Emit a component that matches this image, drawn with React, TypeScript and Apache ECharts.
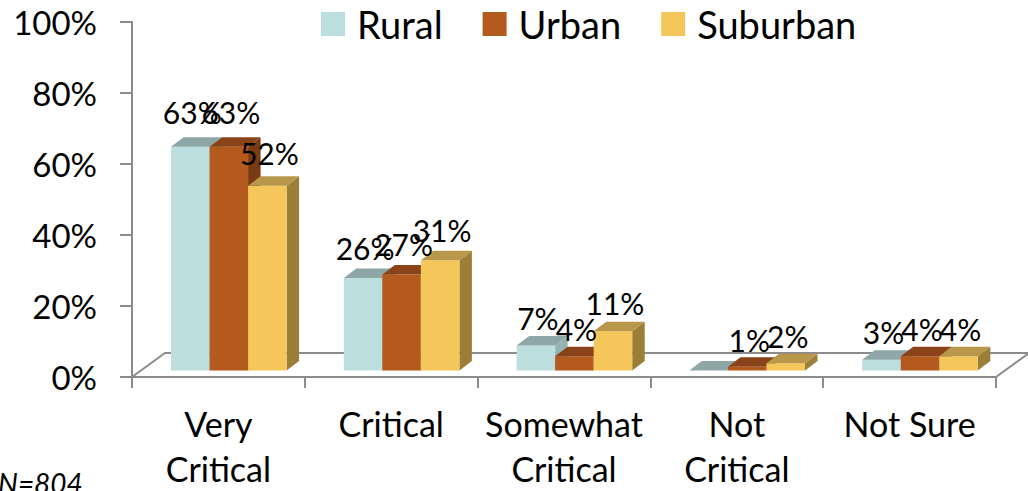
import React, { useEffect, useRef } from "react";
import * as echarts from "echarts";

const categories = ["Very\nCritical", "Critical", "Somewhat\nCritical", "Not\nCritical", "Not Sure"];
const seriesNames = ["Rural", "Urban", "Suburban"];
const rural = [63, 26, 7, 0, 3];
const urban = [63, 27, 4, 1, 4];
const suburban = [52, 31, 11, 2, 4];
const footnote = "N=804";

const FONT = "Lato, 'Open Sans', sans-serif";
const AXIS_GRAY = "#8c8c8c";

const faceColors = [
  { front: "#BCDEDE", top: "#8EA6A6", side: "#97B2B2" },
  { front: "#B55A1F", top: "#8A4318", side: "#7A3A14" },
  { front: "#F5C75A", top: "#B9974A", side: "#9B7F39" },
];

// geometry constants (pixels)
const FLOOR_DX = 33;
const FLOOR_DY = -24;
const PLANE_DX = 10.4;
const PLANE_DY = -6.6;
const BAR_DX = 12.5;
const BAR_DY = -9.5;
const BAR_FRAC = 0.223;

function makeBarRender(idx: number) {
  const c = faceColors[idx];
  return (params: any, api: any) => {
    const cat = api.value(0);
    const v = api.value(1);
    const base = api.coord([cat, 0]);
    const topPt = api.coord([cat, v]);
    const band = api.size([1, 0])[0];
    const bw = band * BAR_FRAC;
    const left = base[0] - 1.5 * bw + PLANE_DX + idx * bw;
    const right = left + bw;
    const bottom = base[1] + PLANE_DY;
    const top = topPt[1] + PLANE_DY;
    const children: any[] = [
      {
        type: "polygon",
        shape: { points: [[right, top], [right, bottom], [right + BAR_DX, bottom + BAR_DY], [right + BAR_DX, top + BAR_DY]] },
        style: { fill: c.side },
      },
      {
        type: "rect",
        shape: { x: left, y: top, width: bw, height: bottom - top },
        style: { fill: c.front },
      },
      {
        type: "polygon",
        shape: { points: [[left, top], [right, top], [right + BAR_DX, top + BAR_DY], [left + BAR_DX, top + BAR_DY]] },
        style: { fill: c.top },
      },
    ];
    if (v > 0) {
      children.push({
        type: "text",
        x: left + bw / 2 + 2,
        y: top - (27 + 0.12 * v),
        style: {
          text: v + "%",
          fill: "#000",
          font: `30px ${FONT}`,
          textAlign: "center",
          textVerticalAlign: "middle",
        },
        z2: 10,
      });
    }
    return { type: "group", children };
  };
}

function floorRender(params: any, api: any) {
  const band = api.size([1, 0])[0];
  const l = api.coord([0, 0]);
  const r = api.coord([categories.length - 1, 0]);
  const x0 = l[0] - band / 2;
  const x1 = r[0] + band / 2;
  const y0 = l[1];
  return {
    type: "polyline",
    shape: {
      points: [
        [x0, y0],
        [x0 + FLOOR_DX, y0 + FLOOR_DY],
        [x1 + FLOOR_DX, y0 + FLOOR_DY],
        [x1, y0],
      ],
    },
    style: { fill: "none", stroke: AXIS_GRAY, lineWidth: 2 },
  };
}

export default function App() {
  const ref = useRef<HTMLDivElement>(null);
  useEffect(() => {
    if (!ref.current) return;
    const chart = echarts.init(ref.current, undefined, { renderer: "svg" });
    const values = [rural, urban, suburban];
    chart.setOption({
      animation: false,
      backgroundColor: "#fff",
      color: faceColors.map((c) => c.front),
      legend: {
        data: seriesNames,
        left: 316,
        top: 0,
        icon: "rect",
        itemWidth: 24,
        itemHeight: 24,
        itemGap: 40,
        selectedMode: false,
        textStyle: { fontFamily: FONT, fontSize: 38, color: "#000", padding: [0, 0, 0, 7] },
      },
      grid: { left: 132, right: 32, top: 22, bottom: 113 },
      xAxis: {
        type: "category",
        data: categories,
        axisLine: { lineStyle: { color: AXIS_GRAY, width: 2 } },
        axisTick: { show: true, length: 11, lineStyle: { color: AXIS_GRAY, width: 2 } },
        axisLabel: {
          interval: 0,
          margin: 24,
          fontFamily: FONT,
          fontSize: 34,
          lineHeight: 45,
          color: "#000",
        },
        splitLine: { show: false },
      },
      yAxis: {
        type: "value",
        min: 0,
        max: 100,
        interval: 20,
        axisLine: { show: true, lineStyle: { color: AXIS_GRAY, width: 2 } },
        axisTick: { show: true, length: 12, lineStyle: { color: AXIS_GRAY, width: 2 } },
        axisLabel: {
          formatter: "{value}%",
          margin: 35,
          fontFamily: FONT,
          fontSize: 33,
          color: "#000",
        },
        splitLine: { show: false },
      },
      graphic: [
        {
          type: "text",
          left: -2,
          top: 469,
          style: { text: footnote, font: `italic 28px ${FONT}`, fill: "#000" },
        },
      ],
      series: [
        {
          type: "custom",
          name: "floor",
          renderItem: floorRender,
          data: [[0, 0]],
          encode: { x: 0, y: 1 },
          silent: true,
        },
        ...seriesNames.map((name, i) => ({
          type: "custom",
          name,
          renderItem: makeBarRender(i),
          data: values[i].map((v, j) => [j, v]),
          encode: { x: 0, y: 1 },
          itemStyle: { color: faceColors[i].front },
        })),
      ],
    });
    return () => chart.dispose();
  }, []);
  return (
    <div
      ref={ref}
      style={{ position: "fixed", left: 0, top: 0, width: 1028, height: 491, background: "#fff" }}
    />
  );
}
